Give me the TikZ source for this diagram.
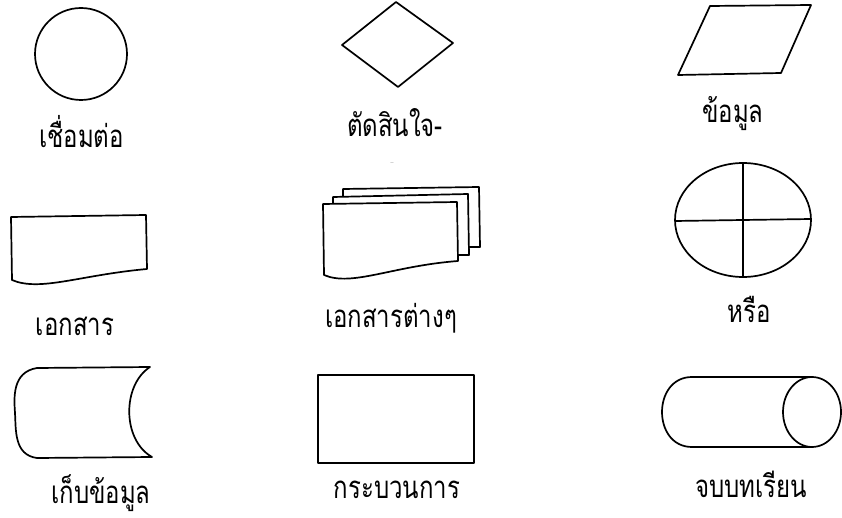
\documentclass[tikz,border=0pt]{standalone}
\usepackage{fontspec}
\usepackage{graphicx}
\newfontfamily\thaifont[Script=Thai]{Loma}
\newcommand{\tallthai}[1]{\scalebox{1}[1.3]{#1}}
\tikzset{
  shapeline/.style={line width=1.7pt, line join=round},
  lbl/.style={anchor=base, inner sep=0pt, font=\thaifont\fontsize{24}{28}\selectfont},
}
\begin{document}
\begin{tikzpicture}[x=1pt,y=-1pt]
\useasboundingbox (0,0) rectangle (842,518);
% 1 connector circle
\draw[shapeline] (81,54) circle[radius=46];
\node[lbl] (l1) at (81.5,148) {\tallthai{เชื่อมต่อ}};
% 2 decision diamond
\draw[shapeline] (342,45) -- (396,2) -- (453,43) -- (398,87) -- cycle;
\node[lbl] (l2) at (395,137) {\tallthai{ตัดสินใจ-}};
\node[anchor=base, inner sep=0pt, font=\fontsize{5}{6}\selectfont] (dash) at (392,165) {--};
% 3 data parallelogram
\draw[shapeline] (710,6) -- (811,5) -- (781,73) -- (678,75) -- cycle;
\node[lbl] (l3) at (733,123) {\tallthai{ข้อมูล}};
% 4 document
\draw[shapeline] (11,217) -- (146,215) -- (147,269) .. controls (80,275) and (40,292) .. (12,280) -- cycle;
\node[lbl] (l4) at (75,335) {\tallthai{เอกสาร}};
% 5 multiple documents
\draw[shapeline] (343,196) -- (343,189) -- (479,187) -- (480,247) -- (469,247);
\draw[shapeline] (333,203) -- (333,197) -- (468,194) -- (469,255) -- (458,255);
\draw[shapeline] (323,204) -- (457,202) -- (458,261) .. controls (392,266) and (352,287) .. (324,275) -- cycle;
\node[lbl] (l5) at (391,327) {\tallthai{เอกสารต่างๆ}};
% 6 or (ellipse with cross)
\draw[shapeline] (743,220) ellipse[x radius=68, y radius=57];
\draw[shapeline] (675,221) -- (811,219);
\draw[shapeline] (743,163) -- (743,277);
\node[lbl] (l6) at (749,322) {\tallthai{หรือ}};
% 7 stored data
\draw[shapeline] (37,368) -- (150,367) .. controls (122,385) and (122,440) .. (152,457) -- (37,458)
  .. controls (14,455) and (16,430) .. (15,413) .. controls (14,398) and (12,372) .. (37,368) -- cycle;
\node[lbl] (l7) at (101,503) {\tallthai{เก็บข้อมูล}};
% 8 process
\draw[shapeline] (318,375) rectangle (474,463);
\node[lbl] (l8) at (397,498) {\tallthai{กระบวนการ}};
% 9 terminator cylinder
\draw[shapeline] (812,412) ellipse[x radius=29, y radius=35];
\draw[shapeline] (812,377) -- (692,377) .. controls (652,377) and (652,447) .. (692,447) -- (812,447);
\node[lbl] (l9) at (751,497) {\tallthai{จบบทเรียน}};
\end{tikzpicture}
\end{document}
